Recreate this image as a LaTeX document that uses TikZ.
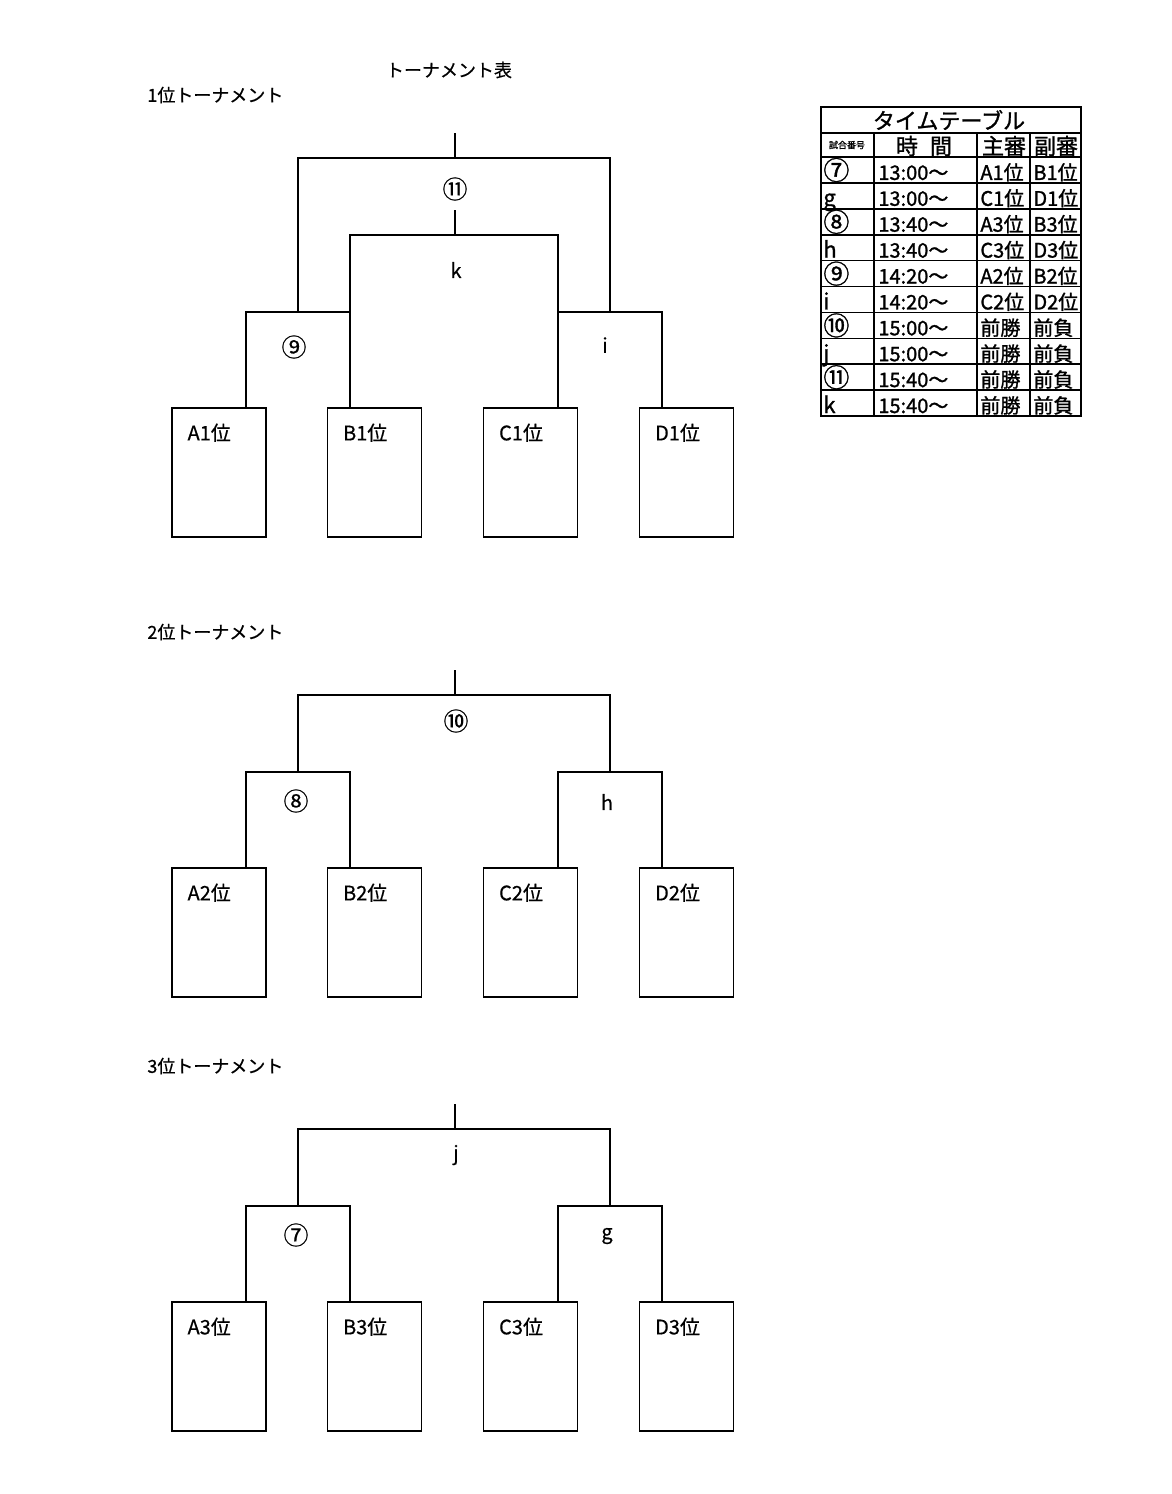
\documentclass[tikz,border=0pt]{standalone}
\usepackage{fontspec}
\setmainfont{Noto Sans CJK JP}[FakeBold=0.5]
\newfontfamily\tabfont{Noto Sans CJK JP}[FakeBold=1.2]
\begin{document}
\begin{tikzpicture}[x=0.5pt, y=-0.5pt,
  bline/.style={line width=1pt},
  tline/.style={line width=0.8pt},
  teambox/.style={draw, line width=0.8pt, minimum width=47pt, minimum height=64.5pt, inner sep=0pt},
  teamname/.style={anchor=north west, inner sep=0pt, font=\fontsize{10}{12}\selectfont},
  gamelabel/.style={inner sep=0pt, font=\fontsize{10}{12}\selectfont},
  circlabel/.style={inner sep=0pt, font=\fontsize{12.5}{14}\selectfont},
  heading/.style={anchor=west, inner sep=0pt, font=\fontsize{9}{11}\selectfont},
  cell/.style={anchor=base west, inner sep=0pt, font=\tabfont\fontsize{10}{12}\selectfont}]
\useasboundingbox (0,0) rectangle (1172,1494);
% headings
\node[inner sep=0pt, font=\fontsize{9}{11}\selectfont] (title) at (449,70) {トーナメント表};
\node[heading] (head1) at (147,95) {1位トーナメント};
\node[heading] (head2) at (147,632) {2位トーナメント};
\node[heading] (head3) at (147,1066) {3位トーナメント};
% team boxes
\foreach \r/\y in {1/472.5, 2/932.5, 3/1366.5} {
  \foreach \t/\x in {A/219, B/374.5, C/530.5, D/686.5} {
    \node[teambox] (\t\r) at (\x,\y) {};
    \node[teamname] (\t\r name) at ([xshift=8pt,yshift=-8pt]\t\r.north west) {\t\r{}位};
  }
}
% 1st place bracket
\coordinate (r1) at (455,133);
\coordinate (m11) at (455,158);
\coordinate (m11l) at (298,158);
\coordinate (m11r) at (610,158);
\coordinate (kt) at (455,210);
\coordinate (mk) at (455,235);
\coordinate (mkl) at (350,235);
\coordinate (mkr) at (558,235);
\coordinate (m9l) at (246,312);
\coordinate (m9r) at (350,312);
\coordinate (mil) at (558,312);
\coordinate (mir) at (662,312);
\draw[bline] (r1) -- (m11);
\draw[bline] (m9l -| m11l) -- (m11l) -- (m11r) -- (mir -| m11r);
\draw[bline] (kt) -- (mk);
\draw[bline] (B1.north -| mkl) -- (mkl) -- (mkr) -- (C1.north -| mkr);
\draw[bline] (A1.north -| m9l) -- (m9l) -- (m9r);
\draw[bline] (D1.north -| mir) -- (mir) -- (mil);
\node[circlabel] (g11) at (455,189) {⑪};
\node[gamelabel] (gk) at (456,270) {k};
\node[circlabel] (g9) at (294,347) {⑨};
\node[gamelabel] (gi) at (605,345) {i};
% 2nd and 3rd place brackets
\foreach \r/\y/\top/\lft/\rgt/\fa/\fb/\fc in {2/868/⑩/⑧/h/12.5/12.5/10, 3/1302/j/⑦/g/10/12.5/10} {
  \coordinate (r\r) at (455,{\y-198});
  \coordinate (m\r) at (455,{\y-173});
  \coordinate (m\r l) at (298,{\y-173});
  \coordinate (m\r r) at (610,{\y-173});
  \coordinate (p\r l) at (246,{\y-96});
  \coordinate (p\r r) at (350,{\y-96});
  \coordinate (q\r l) at (558,{\y-96});
  \coordinate (q\r r) at (662,{\y-96});
  \draw[bline] (r\r) -- (m\r);
  \draw[bline] (p\r l -| m\r l) -- (m\r l) -- (m\r r) -- (q\r r -| m\r r);
  \draw[bline] (A\r.north -| p\r l) -- (p\r l) -- (p\r r) -- (B\r.north -| p\r r);
  \draw[bline] (C\r.north -| q\r l) -- (q\r l) -- (q\r r) -- (D\r.north -| q\r r);
  \node[gamelabel, font=\fontsize{\fa}{14}\selectfont] (gt\r) at (456,{\y-147}) {\top};
  \node[gamelabel, font=\fontsize{\fb}{14}\selectfont] (gl\r) at (296,{\y-67}) {\lft};
  \node[gamelabel, font=\fontsize{\fc}{14}\selectfont] (gr\r) at (607,{\y-66}) {\rgt};
}
% time table
\draw[line width=1pt] (821,107) rectangle (1081,416);
\draw[tline] (821,133) -- (1081,133);
\draw[tline] (821,157) -- (1081,157);
\foreach \i in {1,...,9}
  \draw[tline] (821,{157+25.9*\i}) -- (1081,{157+25.9*\i});
\foreach \x in {874,977,1030}
  \draw[tline] (\x,133) -- (\x,416);
\node[inner sep=0pt, font=\tabfont\fontsize{11}{13}\selectfont] (ttitle) at (949,120) {タイムテーブル};
\node[inner sep=0pt, font=\tabfont\fontsize{4.5}{5}\selectfont] (hno) at (847,145) {試合番号};
\node[inner sep=0pt, font=\tabfont\fontsize{11}{13}\selectfont] (htime) at (924,146) {時\hspace{6pt}間};
\node[inner sep=0pt, font=\tabfont\fontsize{11}{13}\selectfont] (hmain) at (1004,146) {主審};
\node[inner sep=0pt, font=\tabfont\fontsize{11}{13}\selectfont] (hsub) at (1056,146) {副審};
\foreach \i/\g/\f/\t/\m/\s in {1/⑦/13/13:00～/A1位/B1位, 2/g/11/13:00～/C1位/D1位,
    3/⑧/13/13:40～/A3位/B3位, 4/h/11/13:40～/C3位/D3位, 5/⑨/13/14:20～/A2位/B2位,
    6/i/11/14:20～/C2位/D2位, 7/⑩/13/15:00～/前勝/前負, 8/j/11/15:00～/前勝/前負,
    9/⑪/13/15:40～/前勝/前負, 10/k/11/15:40～/前勝/前負} {
  \node[cell, font=\tabfont\fontsize{\f}{14}\selectfont] (no\i) at (823,{157+25.9*\i-3}) {\g};
  \node[cell] (tm\i) at (878,{157+25.9*\i-3}) {\t};
  \node[cell] (ch\i) at (980,{157+25.9*\i-3}) {\m};
  \node[cell] (su\i) at (1033,{157+25.9*\i-3}) {\s};
}
\end{tikzpicture}
\end{document}
